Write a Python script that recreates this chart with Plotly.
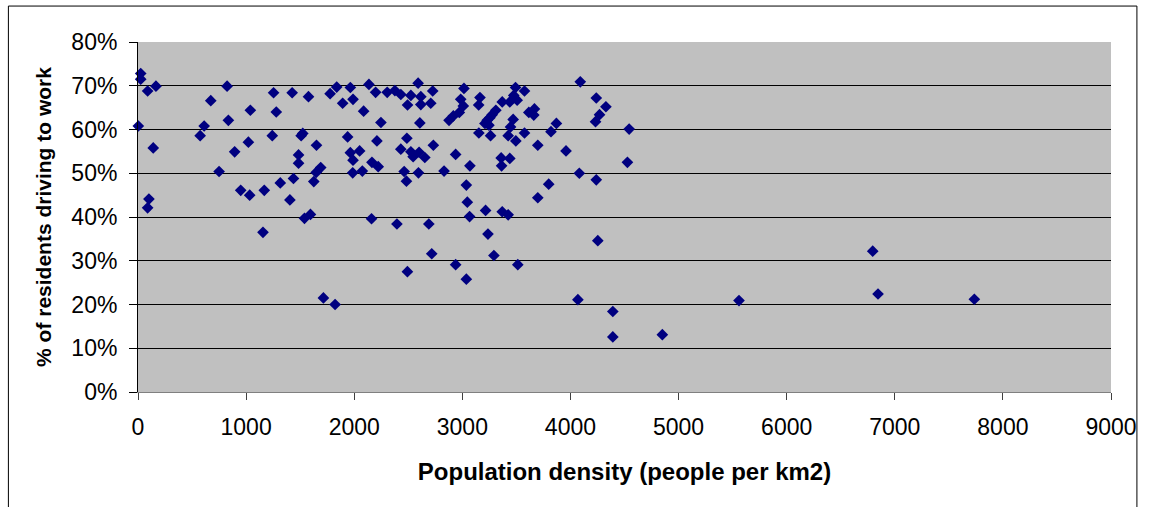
import plotly.graph_objects as go

# Population density (people per km2)
density = [25, 25, 89, 166, 3, 141, 101, 89, 824, 673, 612, 575, 836, 1039, 894, 1021,
           750, 950, 1033, 1168, 1316, 1438, 1405, 1254, 1426, 1279, 1242, 1509, 1485, 1485,
           1156, 1577, 1838, 1777, 1964, 1893, 1989, 2136, 2198, 2087, 2247, 2305, 2376, 2431,
           2524, 2493, 2591, 2616, 2616, 2726, 2708, 2607, 3015, 2985, 3009, 2972, 2917, 2877,
           1524, 1651, 1939, 2210, 2487, 2732, 2938, 3070, 1964, 2050, 1989, 2164, 2222, 2431,
           2524, 2600, 2545, 2653, 1690, 1648, 1626, 1986, 2075, 2462, 2483, 2594, 2831, 3037,
           3046, 3067, 1595, 1540, 2160, 2395, 2690, 2717, 2492, 2938, 3037, 1715, 1823,
           3492, 3575, 4091, 4239, 4328, 4269, 4232, 4543, 3163, 3151, 3369, 3439, 3507, 3476,
           3310, 3276, 3255, 3230, 3209, 3246, 3615, 3667, 3661, 3470, 3446, 3870, 3820, 3153,
           3261, 3424, 3495, 3575, 3698, 3959, 3359, 3439, 3363, 4527, 4082, 4239, 3799, 3698,
           3215, 3369, 3424, 3237, 3292, 3513, 4253, 4069, 4392, 4392, 4850, 5559, 6796, 6845,
           7736]

# % of residents driving to work
driving_pct = [72.8, 71.5, 68.8, 69.9, 60.8, 55.8, 44.1, 42.1, 69.9, 66.6, 60.8, 58.6, 62.1, 64.4,
               54.9, 57.1, 50.4, 46.1, 45.0, 46.1, 47.8, 48.8, 43.9, 68.4, 68.4, 64.0, 58.6, 58.6,
               54.2, 52.3, 36.5, 67.5, 69.7, 68.2, 69.6, 66.0, 66.9, 70.3, 68.5, 64.2, 61.6, 68.5,
               68.9, 68.0, 67.8, 65.6, 70.6, 67.5, 65.7, 68.8, 66.0, 61.5, 69.4, 66.9, 65.4, 63.9,
               63.1, 62.1, 59.1, 56.4, 58.3, 57.4, 58.0, 56.4, 54.3, 51.7, 54.7, 55.1, 53.0, 52.5,
               51.5, 55.5, 54.9, 54.8, 53.8, 53.6, 51.3, 50.2, 48.1, 50.1, 50.5, 50.4, 48.2, 50.1,
               50.5, 47.3, 43.4, 40.1, 40.6, 39.7, 39.6, 38.4, 38.4, 31.6, 27.5, 29.1, 25.8, 21.5,
               20.0, 69.6, 68.8, 70.9, 67.2, 65.2, 63.4, 61.8, 60.1, 67.3, 65.6, 66.3, 66.3, 66.7,
               67.8, 64.4, 63.4, 62.7, 62.1, 61.4, 61.0, 63.9, 64.7, 63.3, 62.3, 60.6, 61.4, 59.5,
               59.2, 58.6, 58.6, 57.4, 59.2, 56.4, 55.1, 53.5, 53.4, 51.7, 52.5, 50.0, 48.5, 47.5,
               44.4, 41.5, 41.2, 40.5, 36.1, 31.2, 29.1, 34.6, 21.1, 18.4, 12.6, 13.1, 20.9, 32.2,
               22.4, 21.2]

x_ticks = [0, 1000, 2000, 3000, 4000, 5000, 6000, 7000, 8000, 9000]
y_ticks = [0, 10, 20, 30, 40, 50, 60, 70, 80]

W, H = 1149, 507
L, R, T, B = 138, 35, 42, 114.5
pw, ph = W - L - R, H - T - B

def px_x(p):
    return (p - L) / pw

def px_y(p):
    return (H - B - p) / ph

fig = go.Figure()
fig.add_trace(go.Scatter(
    x=density, y=driving_pct, mode="markers",
    marker=dict(symbol="diamond", size=9, color="#000080",
                line=dict(width=0)),
    showlegend=False, cliponaxis=False,
))

font_family = "Liberation Sans, Arial, sans-serif"

fig.update_layout(
    width=W, height=H,
    margin=dict(l=L, r=R, t=T, b=B),
    paper_bgcolor="white",
    plot_bgcolor="#C0C0C0",
    font=dict(family=font_family, color="black", size=23),
    xaxis=dict(
        range=[0, 9000], tickvals=x_ticks, ticktext=[str(v) for v in x_ticks],
        showgrid=False, zeroline=False,
        showline=True, linecolor="#808080", linewidth=1,
        ticks="outside", ticklen=7, tickcolor="#404040", tickwidth=1,
        tickfont=dict(size=23), ticklabelstandoff=7,
        title=dict(text="<b>Population density (people per km2)</b>",
                   font=dict(size=24), standoff=24),
    ),
    yaxis=dict(
        range=[0, 80], tickvals=y_ticks, ticktext=[f"{v}%" for v in y_ticks],
        showgrid=True, gridcolor="black", gridwidth=1,
        zeroline=False,
        showline=True, linecolor="black", linewidth=1,
        ticks="outside", ticklen=8, tickcolor="black", tickwidth=1,
        tickfont=dict(size=23), ticklabelstandoff=7,
        title=dict(text="<b>% of residents driving to work</b>",
                   font=dict(size=21), standoff=14),
    ),
    shapes=[
        dict(type="rect", xref="paper", yref="paper",
             x0=px_x(8), x1=px_x(1140), y0=px_y(520), y1=px_y(6),
             line=dict(color="black", width=1), fillcolor="rgba(0,0,0,0)",
             layer="below"),
    ],
)

fig.write_html("out.html")
